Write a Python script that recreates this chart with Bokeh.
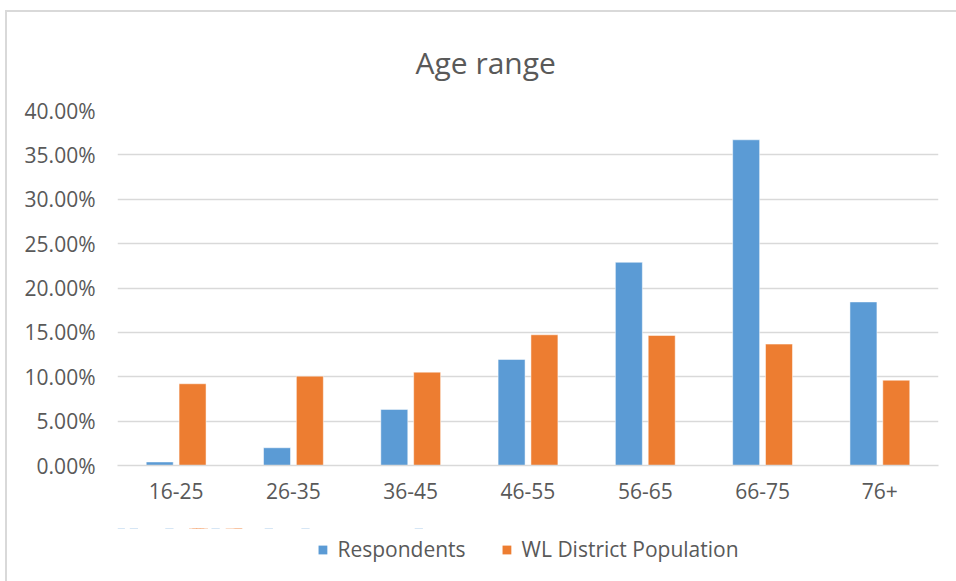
from bokeh.plotting import figure
from bokeh.layouts import column
from bokeh.models import (ColumnDataSource, FactorRange, Range1d, NumeralTickFormatter,
                          Legend, LegendItem, FixedTicker)
from bokeh.transform import dodge
from bokeh.embed import file_html
from bokeh.resources import INLINE

categories = ["16-25", "26-35", "36-45", "46-55", "56-65", "66-75", "76+"]
respondents = [0.0040, 0.0200, 0.0632, 0.1195, 0.2290, 0.3670, 0.1843]
district = [0.0921, 0.1007, 0.1052, 0.1473, 0.1465, 0.1368, 0.0961]
y_ticks = [0.0, 0.05, 0.10, 0.15, 0.20, 0.25, 0.30, 0.35, 0.40]
series_names = ["Respondents", "WL District Population"]

FONT = "Open Sans"
TXT = "#595959"
BLUE = "#5b9bd5"
ORANGE = "#ed7d31"

src = ColumnDataSource(dict(cat=categories, resp=respondents, dist=district))

p = figure(x_range=FactorRange(*categories, range_padding=0), y_range=Range1d(0, 0.40),
           width=949, height=516, output_backend="svg", toolbar_location=None,
           title="Age range")
p.min_border_left = 110
p.min_border_right = 18
p.min_border_top = 98
p.min_border_bottom = 63

r1 = p.vbar(x=dodge("cat", -0.14, range=p.x_range), top="resp", width=0.23, source=src,
            fill_color=BLUE, line_color="white", line_width=0.5)
r2 = p.vbar(x=dodge("cat", 0.14, range=p.x_range), top="dist", width=0.23, source=src,
            fill_color=ORANGE, line_color="white", line_width=0.5)

p.title.align = "left"
p.title.text_font = FONT
p.title.text_font_size = "30px"
p.title.text_font_style = "normal"
p.title.text_color = TXT
p.title.standoff = 55
p.title.offset = 298

p.outline_line_color = None
p.background_fill_color = "white"
p.border_fill_color = "white"

p.xgrid.grid_line_color = None
p.ygrid.grid_line_color = "#d9d9d9"
p.ygrid.grid_line_width = 1.5

p.yaxis.ticker = FixedTicker(ticks=y_ticks)
p.yaxis.formatter = NumeralTickFormatter(format="0.00%")
p.yaxis.axis_line_color = None
p.yaxis.major_tick_line_color = None
p.yaxis.minor_tick_line_color = None
p.yaxis.major_label_text_font = FONT
p.yaxis.major_label_text_font_size = "21px"
p.yaxis.major_label_text_color = TXT
p.yaxis.major_label_standoff = 16

p.xaxis.axis_line_color = "#d9d9d9"
p.xaxis.axis_line_width = 1.5
p.xaxis.major_tick_line_color = None
p.xaxis.minor_tick_line_color = None
p.xaxis.major_label_text_font = FONT
p.xaxis.major_label_text_font_size = "21px"
p.xaxis.major_label_text_color = TXT
p.xaxis.major_label_standoff = 11

# legend strip below the chart; its bars fall outside its own y range (above the canvas),
# so only the key is visible
pl = figure(width=949, height=53, output_backend="svg", toolbar_location=None,
            x_range=Range1d(0, 1), y_range=Range1d(-2, -1))
pl.min_border_left = 30
pl.min_border_right = 9
pl.min_border_top = 0
pl.min_border_bottom = 11
pl.axis.visible = False
pl.grid.visible = False
pl.outline_line_color = None
pl.border_fill_color = "white"
pl.background_fill_color = "white"
lsrc = ColumnDataSource(dict(a=respondents, b=district))
l1 = pl.vbar(x="a", top="a", width=0.01, source=lsrc, fill_color=BLUE, line_color=None)
l2 = pl.vbar(x="b", top="b", width=0.01, source=lsrc, fill_color=ORANGE, line_color=None)

legend = Legend(items=[LegendItem(label=series_names[0], renderers=[l1]),
                       LegendItem(label=series_names[1], renderers=[l2])],
                orientation="horizontal", location="center")
legend.label_text_font = FONT
legend.label_text_font_size = "21px"
legend.label_text_color = TXT
legend.glyph_width = 11
legend.glyph_height = 11
legend.label_standoff = 10
legend.spacing = 35
legend.border_line_color = None
legend.background_fill_alpha = 0
legend.padding = 0
legend.margin = 0
pl.add_layout(legend)

layout = column(p, pl, spacing=0, margin=(10, 0, 0, 5),
                styles={"border-left": "2px solid #d9d9d9", "border-top": "2px solid #d9d9d9",
                        "border-right": "none"})

open("out.html", "w").write(file_html(layout, INLINE))
